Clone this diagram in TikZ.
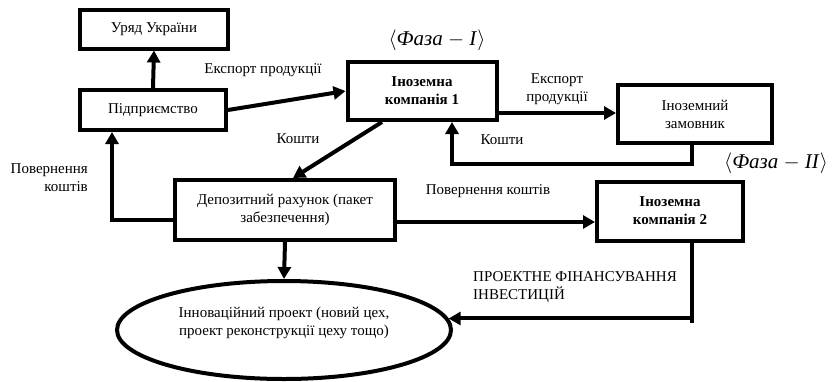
\documentclass[tikz,border=0pt]{standalone}
\usepackage{fontspec}
\setmainfont{Liberation Serif}
\usetikzlibrary{arrows.meta,shapes.geometric}

\tikzset{
	blok/.style={draw, line width=4pt, align=center, inner sep=0pt},
	strilka/.style={line width=4pt, -{Triangle[length=12pt,width=13pt]}},
	linija/.style={line width=4pt},
	napys/.style={align=center, inner sep=0pt},
	faza/.style={inner sep=0pt, font=\fontsize{21}{24}\selectfont}
}

\begin{document}
\begin{tikzpicture}[x=1pt, y=-1pt, font=\fontsize{15}{18}\selectfont]
			%%%%% START %%%%%
			\useasboundingbox (0, 0) rectangle (835, 381);
			
			\node[blok, minimum width=148pt, minimum height=39pt] (uriad) at (154, 29) {Уряд України};
			\node[blok, minimum width=146pt, minimum height=40pt] (pidpr) at (153, 110) {Підприємство};
			\node[blok, minimum width=149pt, minimum height=58pt, font=\fontsize{15}{18}\selectfont\bfseries] (inoz1) at (422, 91) {Іноземна\\компанія 1};
			\node[blok, minimum width=154pt, minimum height=58pt] (zamov) at (695, 114) {Іноземний\\замовник};
			\node[blok, minimum width=220pt, minimum height=60pt] (depoz) at (285, 210) {Депозитний рахунок (пакет\\забезпечення)};
			\node[blok, minimum width=146pt, minimum height=59pt, font=\fontsize{15}{18}\selectfont\bfseries] (inoz2) at (670, 211) {Іноземна\\компанія 2};
			\node[blok, ellipse, minimum width=334pt, minimum height=98pt, text depth=18pt] (proekt) at (284, 330) {Інноваційний проект (новий цех,\\проект реконструкції цеху тощо)};
			
			\node[faza] (faza1) at (437, 40) {$\langle$\textit{Фаза} $-$ \textit{I}$\rangle$};
			\node[faza] (faza2) at (776, 163) {$\langle$\textit{Фаза} $-$ \textit{II}$\rangle$};
			
			\node[napys] (eksp1) at (263, 70) {Експорт продукції};
			\node[napys] (eksp2) at (557, 89) {Експорт\\продукції};
			\node[napys] (kosht1) at (298, 139) {Кошти};
			\node[napys] (kosht2) at (502, 140) {Кошти};
			\node[napys, anchor=east, align=right] (povern1) at (88, 178) {Повернення\\коштів};
			\node[napys] (povern2) at (488, 191) {Повернення коштів};
			\node[napys, anchor=west, align=left] (finans) at (473, 287) {ПРОЕКТНЕ ФІНАНСУВАННЯ\\ІНВЕСТИЦІЙ};
			
			% Phase I
			\draw[strilka] (pidpr.north) -- (uriad.south);
			\draw[strilka] (pidpr.east) -- (inoz1.west);
			\coordinate (e1) at ([yshift=-22pt]inoz1.east);
			\draw[strilka] (e1) -- (e1 -| zamov.west);
			\draw[strilka] ([xshift=-3pt]zamov.south) -- ++(0, 19) -| ([xshift=30pt]inoz1.south);
			\draw[strilka] ([xshift=-40pt]inoz1.south) -- ([xshift=8pt]depoz.north);
			
			% Phase II
			\draw[strilka] ([yshift=-10pt]depoz.west) -| ([xshift=-41pt]pidpr.south);
			\coordinate (e2) at ([yshift=-12pt]depoz.east);
			\draw[strilka] (e2) -- (e2 -| inoz2.west);
			\draw[strilka] (depoz.south) -- (proekt.north);
			\coordinate (e3) at ([xshift=22pt]inoz2.south);
			\draw[linija] (e3) -- ++(0, 80);
			\draw[strilka] (e3 |- proekt.4) -- (proekt.4);
			
			%%%%% END %%%%%
\end{tikzpicture}
\end{document}
